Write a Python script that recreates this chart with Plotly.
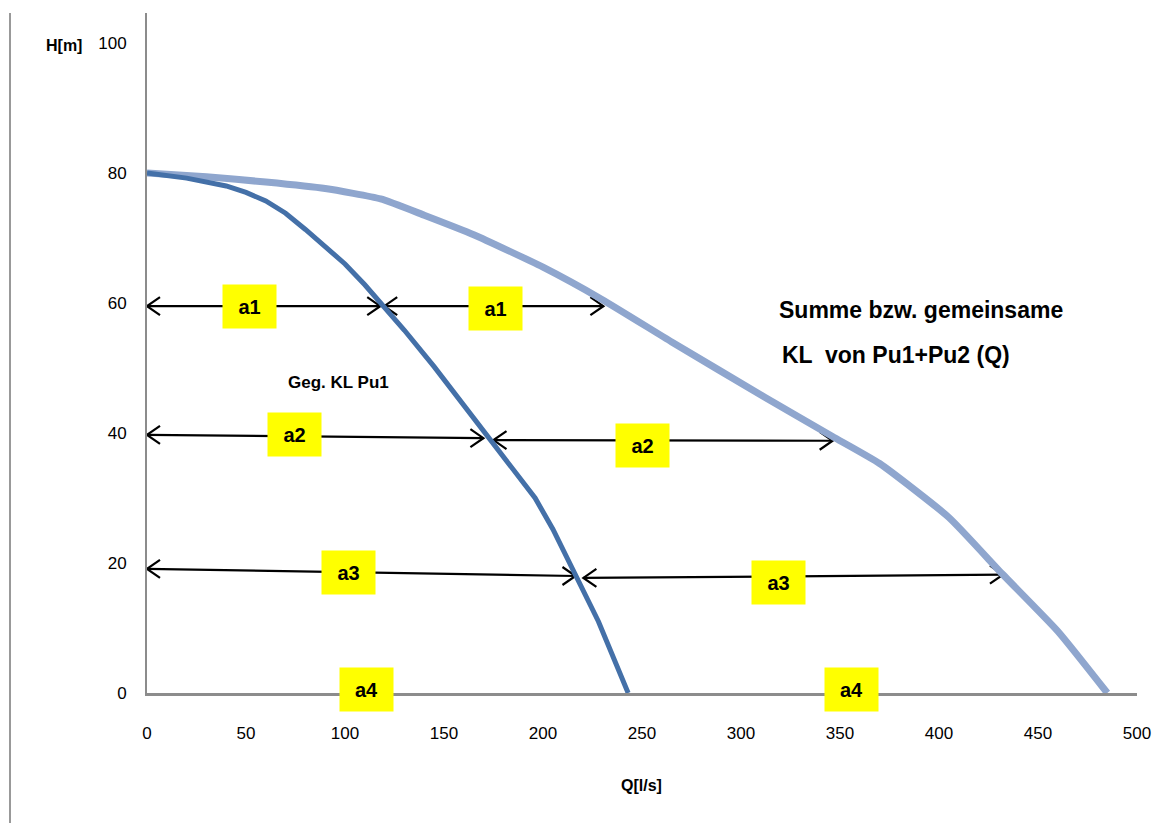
import plotly.graph_objects as go

# ---------------- data ----------------
pu1_q = [0, 20, 40, 50, 60, 70, 80, 90, 100, 110, 118, 130, 145, 158, 172, 185, 196, 205, 215, 228, 243]
pu1_h = [80, 79.2, 78, 77, 75.7, 73.8, 71.3, 68.7, 66, 62.8, 60, 55.8, 50.2, 45, 39.4, 34.5, 30, 25.2, 19, 11, 0]

sum_q = [0, 30, 60, 90, 118, 140, 165, 200, 230, 265, 312, 346, 370, 405, 432, 460, 485]
sum_h = [80, 79.4, 78.6, 77.6, 76, 73.5, 70.5, 65.5, 60.5, 54, 45.5, 39.5, 35.3, 27, 18.3, 9.5, 0]

# double arrows: (q_start, h_start, q_end, h_end)
arrow_q0 = [0, 119.8, 0, 175, 0, 220.4]
arrow_h0 = [59.5, 59.5, 39.7, 38.9, 19.1, 17.7]
arrow_q1 = [117.8, 230.5, 169.9, 346.3, 216.4, 432.3]
arrow_h1 = [59.5, 59.5, 39.2, 38.8, 18.0, 18.2]

label_text = ["a1", "a1", "a2", "a2", "a3", "a3", "a4", "a4"]
label_q = [51.6, 176, 74.6, 250, 101.9, 318.7, 111, 355.7]
label_h = [59.4, 59.2, 39.8, 38.1, 18.5, 17.0, 0.5, 0.5]

x_ticks = [0, 50, 100, 150, 200, 250, 300, 350, 400, 450, 500]
y_ticks = [0, 20, 40, 60, 80, 100]

# ---------------- layout constants ----------------
OFF = 8  # page body margin
W, H = 1163, 815
ML, MT = 147 - OFF, 13 - OFF
MR = W - (1137 - OFF)
MB = H - (693 - OFF)
XR = [0, 500]
YR = [0, 104.6]
PW, PH = W - ML - MR, H - MT - MB
kx = PW / (XR[1] - XR[0])
ky = PH / (YR[1] - YR[0])


def pxq(xpage):
    return (xpage - OFF - ML) / kx


def pxh(ypage):
    return (H - MB - (ypage - OFF)) / ky


def paperx(xpage):
    return (xpage - OFF - ML) / PW


def papery(ypage):
    return (H - MB - (ypage - OFF)) / PH


FONT = "Liberation Sans Narrow, Liberation Sans, Arial"

fig = go.Figure()

# arrows
for q0, h0, q1, h1 in zip(arrow_q0, arrow_h0, arrow_q1, arrow_h1):
    xs = [q0, q1, None]
    ys = [h0, h1, None]
    al, aw = 13, 9  # pixels
    for (qt, ht, d) in [(q0, h0, 1), (q1, h1, -1)]:
        xs += [qt + d * al / kx, qt, qt + d * al / kx, None]
        ys += [ht + aw / ky, ht, ht - aw / ky, None]
    fig.add_trace(go.Scatter(x=xs, y=ys, mode="lines",
                             line=dict(color="black", width=2.2),
                             hoverinfo="skip", showlegend=False))

fig.add_trace(go.Scatter(x=sum_q, y=sum_h, mode="lines",
                         line=dict(color="#8FA6CE", width=7, shape="spline", smoothing=0.5),
                         showlegend=False, name="Summe"))
fig.add_trace(go.Scatter(x=pu1_q, y=pu1_h, mode="lines",
                         line=dict(color="#4470A8", width=5),
                         showlegend=False, name="Pu1"))

annotations = []
for t, q, h in zip(label_text, label_q, label_h):
    annotations.append(dict(x=q, y=h, xref="x", yref="y", text=f"<b>{t}</b>",
                            showarrow=False, bgcolor="#FFFF00", width=51, height=41,
                            font=dict(family=FONT, size=20, color="black"),
                            valign="middle", align="center"))

annotations += [
    dict(x=pxq(338), y=pxh(382), xref="x", yref="y", text="<b>Geg. KL Pu1</b>",
         showarrow=False, font=dict(family=FONT, size=17, color="black")),
    dict(x=pxq(777), y=pxh(310), xref="x", yref="y",
         text="<b>Summe bzw. gemeinsame</b>", showarrow=False, xanchor="left",
         font=dict(family=FONT, size=23, color="black")),
    dict(x=pxq(780), y=pxh(355), xref="x", yref="y",
         text="<b>KL  von Pu1+Pu2 (Q)</b>", showarrow=False, xanchor="left",
         font=dict(family=FONT, size=23, color="black")),
    dict(x=paperx(641), y=papery(785), xref="paper", yref="paper",
         xanchor="center", yanchor="middle",
         text="<b>Q[l/s]</b>", showarrow=False,
         font=dict(family=FONT, size=16, color="black")),
    dict(x=paperx(84), y=papery(45), xref="paper", yref="paper",
         xanchor="right", yanchor="middle",
         text="<b>H[m]</b>", showarrow=False,
         font=dict(family=FONT, size=16, color="black")),
]

shapes = [
    dict(type="line", xref="paper", yref="paper",
         x0=paperx(10), x1=paperx(10),
         y0=papery(823), y1=papery(13),
         line=dict(color="#999999", width=2)),
]

fig.update_layout(
    width=W, height=H,
    margin=dict(l=ML, r=MR, t=MT, b=MB, pad=0),
    paper_bgcolor="white", plot_bgcolor="white",
    annotations=annotations, shapes=shapes,
    xaxis=dict(range=XR, tickvals=x_ticks, showgrid=False, zeroline=False,
               showline=True, linecolor="#8C8C8C", linewidth=3,
               ticks="", ticklabelstandoff=23,
               tickfont=dict(family=FONT, size=17, color="black")),
    yaxis=dict(range=YR, tickvals=y_ticks, showgrid=False, zeroline=False,
               showline=True, linecolor="#8C8C8C", linewidth=2,
               ticks="", ticklabelstandoff=15,
               tickfont=dict(family=FONT, size=17, color="black")),
)

fig.write_html("out.html")
